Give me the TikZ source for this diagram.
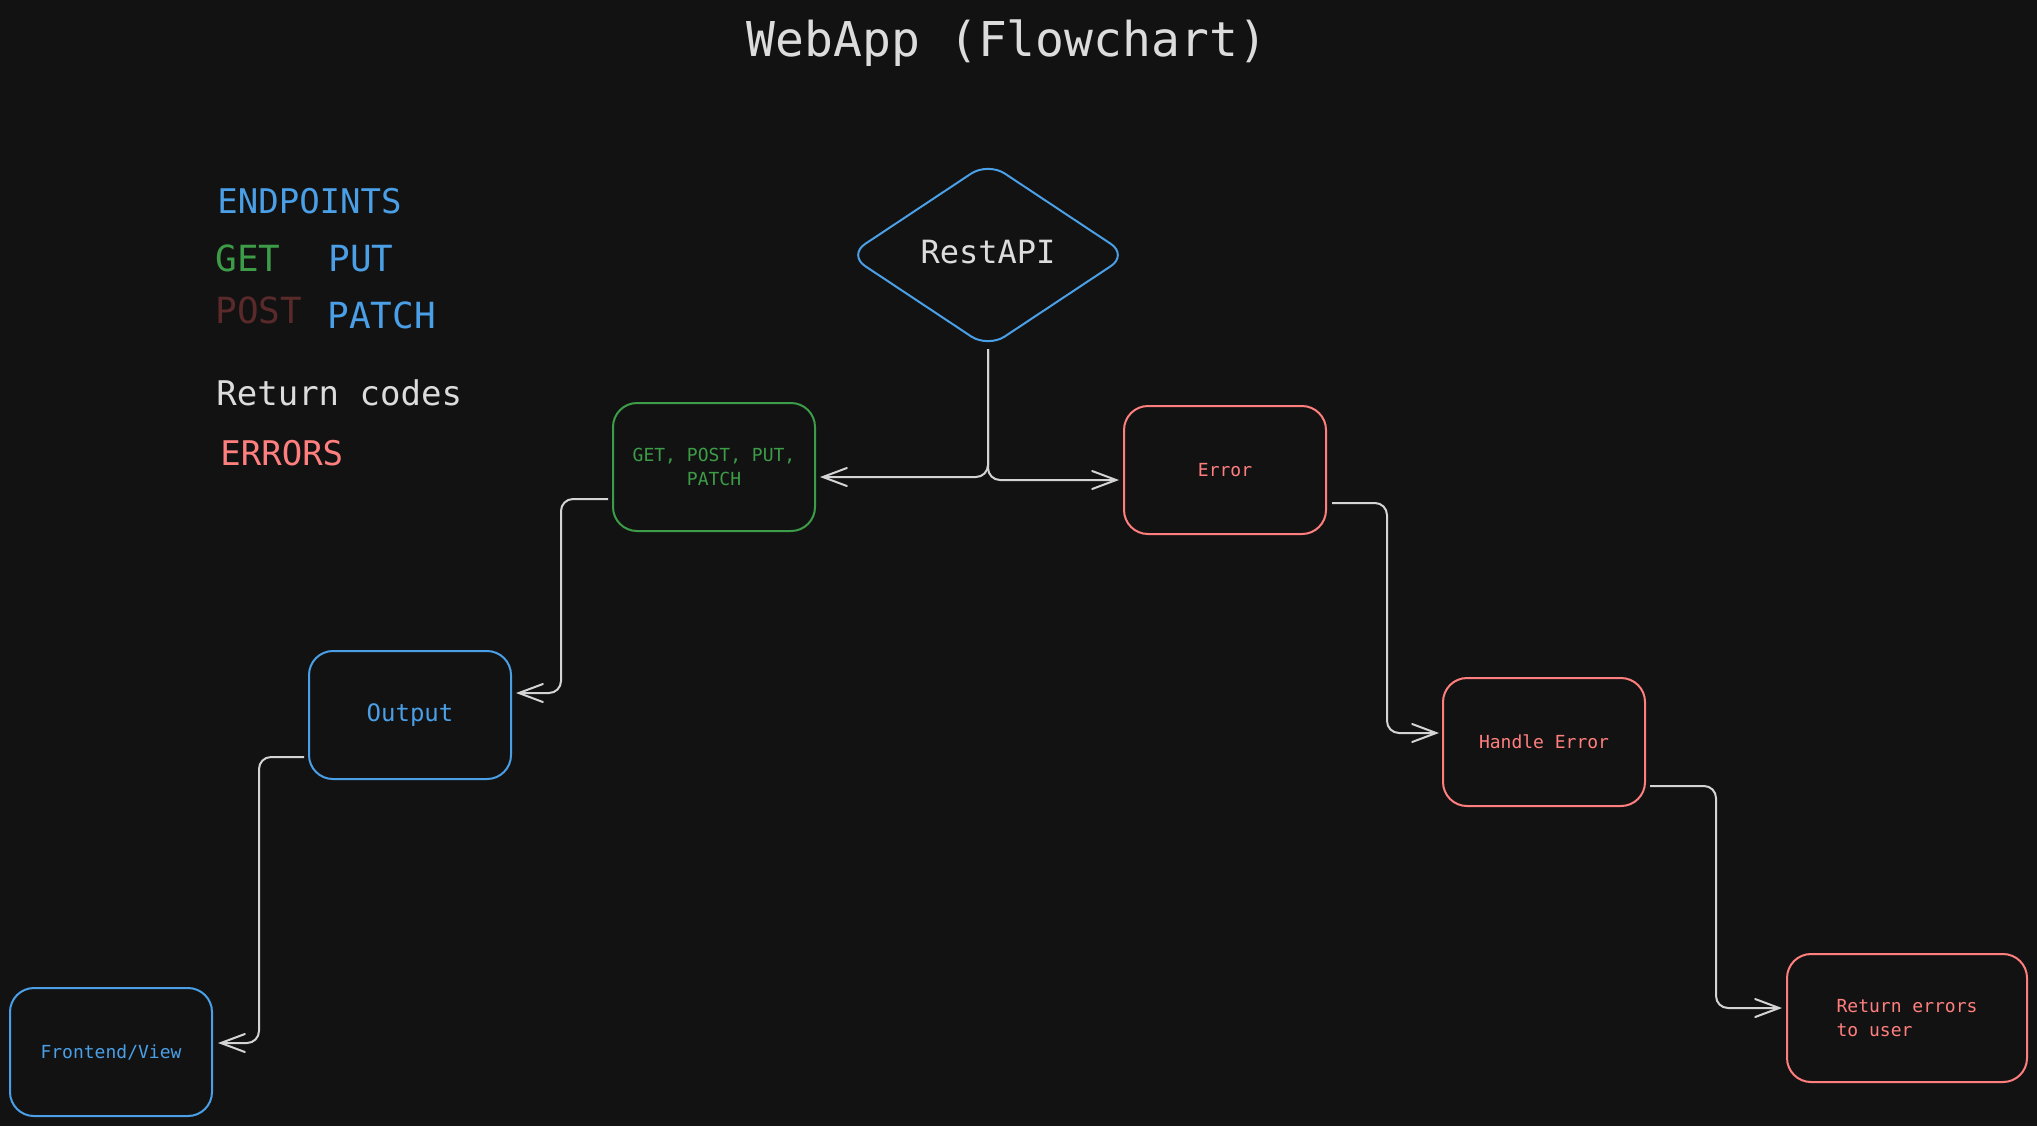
\documentclass[tikz,border=0pt]{standalone}
\usepackage{fontspec}
\setmonofont{DejaVu Sans Mono}
\usetikzlibrary{shapes.geometric,arrows.meta}
\definecolor{bg}{HTML}{121212}
\definecolor{blu}{HTML}{4A9FE6}
\definecolor{grn}{HTML}{3C9C48}
\definecolor{rd}{HTML}{FF7F7F}
\definecolor{brn}{HTML}{5A2A2A}
\definecolor{txt}{HTML}{DCDCDC}
\definecolor{lne}{HTML}{D4D4D4}

\begin{document}
\begin{tikzpicture}[x=0.5pt, y=-0.5pt, font=\ttfamily,
    box/.style = {draw=#1, text=#1, line width=1pt, rounded corners=12pt, minimum width=101pt, minimum height=64pt, align=center, font=\ttfamily\fontsize{9}{12}\selectfont},
    conn/.style = {draw=lne, line width=1pt, rounded corners=6pt, -{Straight Barb[length=12pt,width=9pt,line cap=round]}},
    legend/.style = {anchor=base west, inner sep=0pt, font=\ttfamily\fontsize{17}{20}\selectfont},
    big/.style = {font=\ttfamily\fontsize{18}{20}\selectfont}]
        \path[use as bounding box, fill=bg] (0,0) rectangle (2037,1126);

        \node[anchor=base, text=txt, font=\ttfamily\fontsize{24}{28}\selectfont] (title) at (1007,56) {WebApp (Flowchart)};

        \node[legend, text=blu] (endpoints) at (217,213) {ENDPOINTS};
        \node[legend, big, text=grn] (lget) at (215,271) {GET};
        \node[legend, big, text=blu] (lput) at (328,271) {PUT};
        \node[legend, big, text=brn] (lpost) at (215,323) {POST};
        \node[legend, big, text=blu] (lpatch) at (327,328) {PATCH};
        \node[legend, text=txt] (codes) at (216,405) {Return codes};
        \node[legend, text=rd] (errors) at (220,465) {ERRORS};

        \node[diamond, draw=blu, text=txt, line width=1pt, rounded corners=10pt, aspect=1.5, minimum width=140pt, minimum height=93pt, font=\ttfamily\fontsize{16}{18}\selectfont] (api) at (988,255) {\raisebox{3pt}{RestAPI}};
        \node[box=grn] (get) at (714,467) {GET, POST, PUT,\\PATCH};
        \node[box=rd] (err) at (1225,470) {Error};
        \node[box=blu, font=\ttfamily\fontsize{12}{14}\selectfont] (out) at (410,715) {Output};
        \node[box=rd] (handle) at (1544,742) {Handle Error};
        \node[box=blu] (front) at (111,1052) {Frontend/View};
        \node[box=rd, minimum width=120pt, align=left] (ret) at (1907,1018) {Return errors\\to user};

        \draw[conn] (api.south) |- ([shift={(2pt,-5pt)}]get.east);
        \draw[conn] (api.south) |- ([shift={(-2pt,-5pt)}]err.west);
        \draw[conn] ([shift={(-2pt,-16pt)}]get.west) -- ++(-47,0) |- ([shift={(2pt,11pt)}]out.east);
        \draw[conn] ([shift={(-2pt,-21pt)}]out.west) -- ++(-45,0) |- ([shift={(2.5pt,4.5pt)}]front.east);
        \draw[conn] ([shift={(2.5pt,-16.5pt)}]err.east) -- ++(55,0) |- ([shift={(-1.5pt,4.5pt)}]handle.west);
        \draw[conn] ([shift={(2pt,-22pt)}]handle.east) -- ++(66,0) |- ([shift={(-2pt,5pt)}]ret.west);

    \end{tikzpicture}
\end{document}
